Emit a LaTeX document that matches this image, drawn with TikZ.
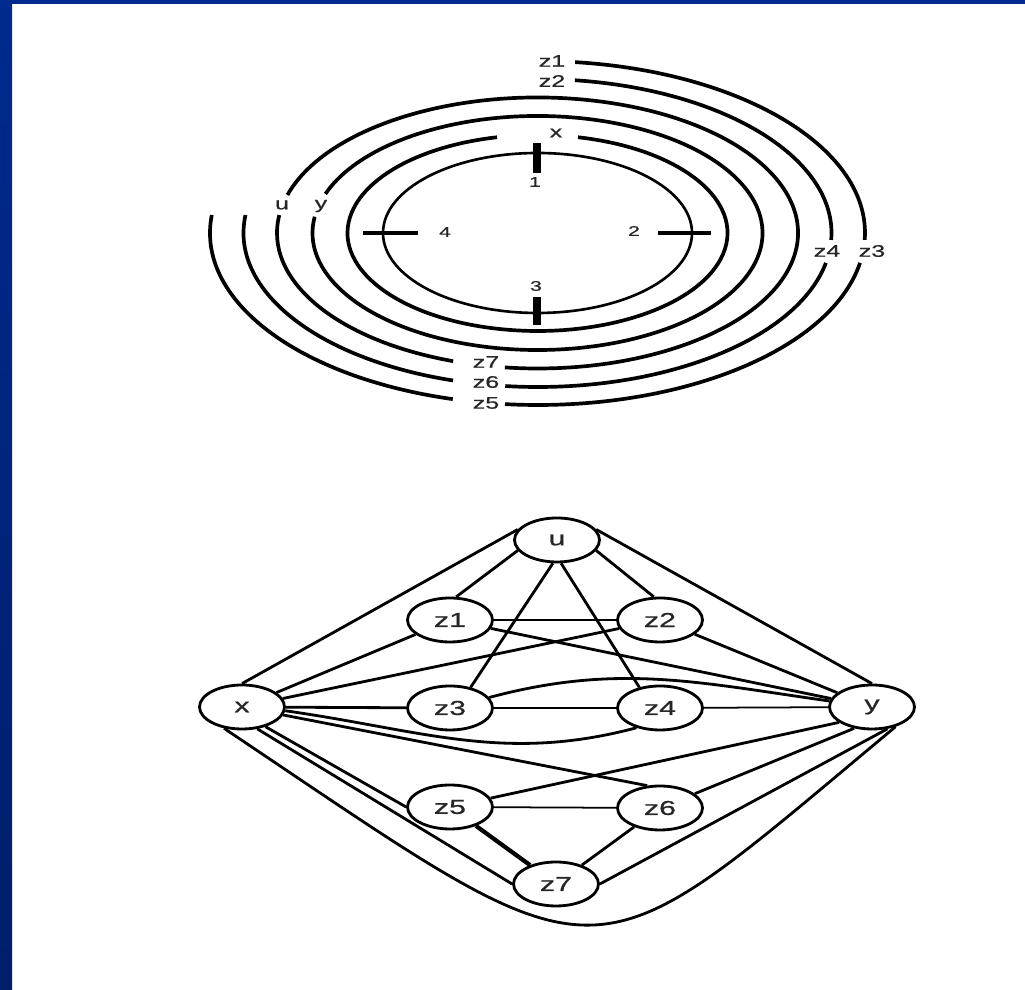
\documentclass[tikz,border=0pt]{standalone}
\usepackage{fontspec}
\setmainfont{Liberation Sans}
\newfontfamily\widefont[FakeStretch=1.5,FakeBold=0.8]{Liberation Sans}
\usetikzlibrary{shapes.geometric}
\definecolor{slideblue}{RGB}{0,42,142}
\definecolor{slidebluedark}{RGB}{0,30,106}
\definecolor{labgray}{gray}{0.15}
\tikzset{
  ring/.style={line width=2.1pt},
  innerring/.style={line width=1.5pt},
  ringlab/.style={font=\widefont\fontsize{9.5}{10}\selectfont,text=labgray,inner sep=0pt},
  ticklab/.style={font=\widefont\fontsize{8}{9}\selectfont,text=labgray,inner sep=0pt},
  vert/.style={draw,ellipse,line width=1.6pt,minimum width=1.7cm,minimum height=0.88cm,inner sep=0pt,font=\widefont\fontsize{11.5}{12}\selectfont,text=labgray},
  edge/.style={line width=1.6pt},
  thinedge/.style={line width=1.0pt},
}
\begin{document}
\begin{tikzpicture}[x=0.02cm,y=0.02cm]
  \useasboundingbox (0,0) rectangle (1025,990);
  \fill[white] (0,0) rectangle (1025,990);
  \shade[top color=slideblue,bottom color=slidebluedark] (0,0) rectangle (12,990);
  \fill[slideblue] (0,986) rectangle (1025,990);

  \begin{scope}[shift={(537.5,757)}]
    \draw[innerring] (0,0) ellipse [x radius=154.5, y radius=80];
    \draw[ring] (77.7:190 and 98) arc[start angle=77.7, end angle=-257.7, x radius=190, y radius=98];
    \draw[ring] (160.5:225 and 117) arc[start angle=160.5, end angle=-188, x radius=225, y radius=117];
    \draw[ring] (163.7:260.5 and 135.5) arc[start angle=163.7, end angle=-97.2, x radius=260.5, y radius=135.5];
    \draw[ring] (-108.9:260.5 and 135.5) arc[start angle=-108.9, end angle=-187.6, x radius=260.5, y radius=135.5];
    \draw[ring] (82.7:294 and 154) arc[start angle=82.7, end angle=-2.6, x radius=294, y radius=154];
    \draw[ring] (-11.2:294 and 154) arc[start angle=-11.2, end angle=-96.3, x radius=294, y radius=154];
    \draw[ring] (-106.7:294 and 154) arc[start angle=-106.7, end angle=-186.7, x radius=294, y radius=154];
    \draw[ring] (83.4:327.5 and 172) arc[start angle=83.4, end angle=-2.3, x radius=327.5, y radius=172];
    \draw[ring] (-10:327.5 and 172) arc[start angle=-10, end angle=-95.7, x radius=327.5, y radius=172];
    \draw[ring] (-105:327.5 and 172) arc[start angle=-105, end angle=-186, x radius=327.5, y radius=172];
  \end{scope}
  \draw[line width=4pt] (537,817) -- (537,847);
  \draw[line width=4pt] (537,665) -- (537,693);
  \draw[line width=2.2pt] (658,757) -- (711,757);
  \draw[line width=2.2pt] (363,757) -- (418,757);
  \node[ticklab] (t1) at (535,808) {1};
  \node[ticklab] (t2) at (634,759) {2};
  \node[ticklab] (t3) at (536,704) {3};
  \node[ticklab] (t4) at (445,758) {4};
  \node[ringlab] (rz1) at (552,929) {z1};
  \node[ringlab] (rz2) at (552,909) {z2};
  \node[ringlab] (rx) at (556,857) {x};
  \node[ringlab] (rz4) at (827,739) {z4};
  \node[ringlab] (rz3) at (872,739) {z3};
  \node[ringlab] (ru) at (282,785) {u};
  \node[ringlab] (ry) at (321,784) {y};
  \node[ringlab] (rz7) at (486,628) {z7};
  \node[ringlab] (rz6) at (486,608) {z6};
  \node[ringlab] (rz5) at (486,587) {z5};

  \node[vert] (vu) at (557,450) {u};
  \node[vert] (vz1) at (450,370) {z1};
  \node[vert] (vz2) at (660,370) {z2};
  \node[vert] (vx) at (242,283) {x};
  \node[vert] (vz3) at (450,282) {z3};
  \node[vert] (vz4) at (660,282) {z4};
  \node[vert] (vy) at (872,283) {y};
  \node[vert] (vz5) at (450,183) {z5};
  \node[vert] (vz6) at (660,182) {z6};
  \node[vert] (vz7) at (556,106) {z7};

  \draw[edge] (vx.north) -- (vu.165);
  \draw[edge] (vx) -- (vz1);
  \draw[edge] (vx) -- (vz2);
  \draw[edge] (vx) -- (vz3);
  \draw[edge] (vx.-5) to[out=-8,in=195] (vz4.-140);
  \draw[edge] (vx) -- (vz6.120);
  \draw[edge] (vx.-40) -- (vz5.west);
  \draw[edge] (vx.-55) -- (vz7.west);
  \draw[edge] (vx.-130) .. controls (616,-1) and (578,-1) .. (vy.-40);
  \draw[edge] (vu.195) -- (vz1.75);
  \draw[edge] (vu.-15) -- (vz2.105);
  \draw[edge] (vu.-100) -- (vz3.45);
  \draw[edge] (vu.-80) -- (vz4.135);
  \draw[edge] (vu.15) -- (vy.north);
  \draw[thinedge] (vz1) -- (vz2);
  \draw[edge] (vz1) -- (vy);
  \draw[edge] (vz2) -- (vy);
  \draw[edge] (vz3) -- (vz4);
  \draw[edge] (vz3.15) to[out=15,in=172] (vy.172);
  \draw[thinedge] (vz4) -- (vy);
  \draw[thinedge] (vz5) -- (vz6);
  \draw[edge] (vz5) -- (vy.-155);
  \draw[edge] (vz6) -- (vy.-130);
  \draw[edge] (vz6) -- (vz7);
  \draw[edge,line width=2.4pt] (vz5) -- (vz7);
  \draw[edge] (vz7.east) -- (vy.-55);
\end{tikzpicture}
\end{document}
